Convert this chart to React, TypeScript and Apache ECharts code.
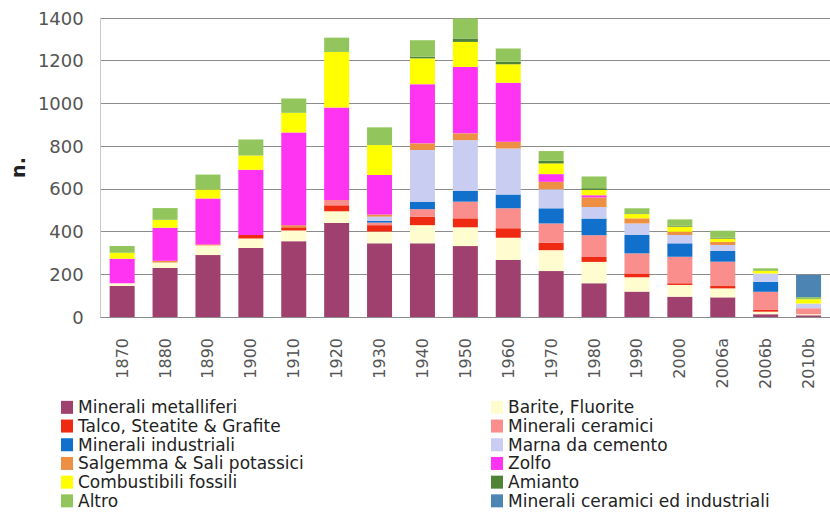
import React, { useEffect, useRef } from "react";
import * as echarts from "echarts";

const categories = ["1870","1880","1890","1900","1910","1920","1930","1940","1950","1960","1970","1980","1990","2000","2006a","2006b","2010b"];

const metalliferi = [145,230,290,323,355,440,345,345,332,267,215,158,119,95,92,13,8];
const barite = [13,25,45,45,50,55,55,85,88,104,98,100,67,55,42,12,5];
const talco = [0,0,0,16,15,28,30,40,42,44,35,23,18,8,11,8,0];
const ceramici = [0,0,0,0,0,25,12,35,78,94,90,102,94,124,114,85,28];
const industriali = [0,0,0,0,0,0,8,35,50,65,71,78,86,63,50,47,0];
const marna = [0,0,0,0,0,0,20,242,238,215,89,54,54,39,28,39,22];
const salgemma = [0,8,5,0,10,0,10,31,32,31,35,45,24,15,15,0,0];
const zolfo = [115,155,215,305,434,433,185,277,311,277,36,10,0,0,0,0,0];
const combustibili = [28,37,42,67,92,260,140,121,117,87,50,25,20,24,15,12,20];
const amianto = [0,0,0,0,0,0,0,8,16,11,12,8,3,4,4,0,0];
const altro = [32,55,70,75,67,67,83,77,94,62,46,55,24,30,33,12,10];
const ceramInd = [0,0,0,0,0,0,0,0,0,0,0,0,0,0,0,0,104];

const yTicks = [0, 1400, 200]; // min, max, interval

const seriesDefs = [
  { name: "Minerali metalliferi", data: metalliferi, color: "#A0406E" },
  { name: "Barite, Fluorite", data: barite, color: "#FFFDD0" },
  { name: "Talco, Steatite & Grafite", data: talco, color: "#EE2A12" },
  { name: "Minerali ceramici", data: ceramici, color: "#F98E8C" },
  { name: "Minerali industriali", data: industriali, color: "#1170CC" },
  { name: "Marna da cemento", data: marna, color: "#CACDF2" },
  { name: "Salgemma & Sali potassici", data: salgemma, color: "#EE9044" },
  { name: "Zolfo", data: zolfo, color: "#FF33F2" },
  { name: "Combustibili fossili", data: combustibili, color: "#FFFF00" },
  { name: "Amianto", data: amianto, color: "#4F8436" },
  { name: "Altro", data: altro, color: "#92C65C" },
  { name: "Minerali ceramici ed industriali", data: ceramInd, color: "#4C85B4" },
];

const legendLeft = ["Minerali metalliferi","Talco, Steatite & Grafite","Minerali industriali","Salgemma & Sali potassici","Combustibili fossili","Altro"];
const legendRight = ["Barite, Fluorite","Minerali ceramici","Marna da cemento","Zolfo","Amianto","Minerali ceramici ed industriali"];

const FONT = "DejaVu Sans";

export default function App() {
  const ref = useRef<HTMLDivElement>(null);
  useEffect(() => {
    if (!ref.current) return;
    const chart = echarts.init(ref.current, undefined, { renderer: "svg" });
    const legendBase = {
      orient: "vertical" as const,
      top: 398,
      padding: 0,
      itemGap: 0,
      itemWidth: 12,
      itemHeight: 13,
      itemTextGap: 6,
      icon: "rect",
      textStyle: { fontFamily: FONT, fontSize: 17, color: "#222", lineHeight: 18.7 },
    };
    chart.setOption({
      animation: false,
      backgroundColor: "#ffffff",
      grid: { left: 89, top: 18, width: 748, height: 299, containLabel: false },
      legend: [
        { ...legendBase, left: 61, data: legendLeft },
        { ...legendBase, left: 491, data: legendRight },
      ],
      xAxis: {
        type: "category",
        data: categories,
        axisLine: { show: true, lineStyle: { color: "#8c8c8c", width: 1 } },
        axisTick: { show: false },
        axisLabel: { rotate: 90, margin: 21, fontFamily: FONT, fontSize: 16, color: "#555" },
      },
      yAxis: {
        type: "value",
        min: yTicks[0],
        max: yTicks[1],
        interval: yTicks[2],
        name: "n.",
        nameLocation: "middle",
        nameRotate: 90,
        nameGap: 67,
        nameTextStyle: { fontFamily: FONT, fontSize: 19, fontWeight: "bold", color: "#222" },
        axisLine: { show: true, lineStyle: { color: "#c8c8c8", width: 1 } },
        axisTick: { show: false },
        axisLabel: {
          margin: 17,
          fontFamily: FONT,
          fontSize: 18,
          color: "#555",
          formatter: (v: number) => String(v),
        },
        splitLine: { show: true, lineStyle: { color: "#8c8c8c", width: 1 } },
      },
      series: seriesDefs.map((s) => ({
        name: s.name,
        type: "bar",
        stack: "total",
        barWidth: 25,
        data: s.data,
        itemStyle: { color: s.color },
      })),
    });
    return () => chart.dispose();
  }, []);
  return (
    <div
      ref={ref}
      style={{ position: "fixed", left: 0, top: 0, width: 830, height: 515, background: "#fff" }}
    />
  );
}
